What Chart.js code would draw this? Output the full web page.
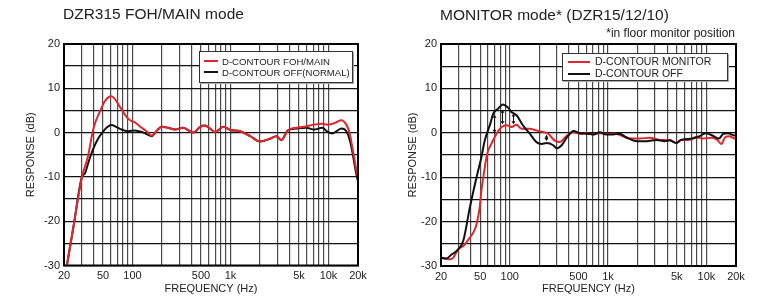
<!DOCTYPE html>
<html>
<head>
<meta charset="utf-8">
<script src="https://cdn.jsdelivr.net/npm/chart.js@4"></script>
<style>
  body { margin: 0; background: #fff; font-family: "Liberation Sans", Arial, sans-serif; color: #222; }
  #wrap { position: relative; width: 760px; height: 297px; overflow: hidden; }
  canvas { position: absolute; top: 0; }
  .ttl { position: absolute; font-size: 15.5px; line-height: 18px; white-space: nowrap; }
  .note { position: absolute; font-size: 12px; line-height: 13px; white-space: nowrap; }
  .lgd { position: absolute; background: #fff; border: 1px solid #333; box-shadow: 1px 1px 0 #aaa; font-size: 9.6px; }
  .lgd div { position: absolute; white-space: nowrap; line-height: 11px; }
  .lgd span { position: absolute; height: 2px; }
</style>
</head>
<body>
<div id="wrap">
  <canvas id="foh" width="380" height="297" style="left:0"></canvas>
  <canvas id="mon" width="380" height="297" style="left:380px"></canvas>

  <div class="ttl" style="left:63px; top:5px">DZR315 FOH/MAIN mode</div>
  <div class="ttl" style="left:440px; top:6px">MONITOR mode* (DZR15/12/10)</div>
  <div class="note" style="right:25px; top:27px">*in floor monitor position</div>

  <div class="lgd" style="left:199px; top:51px; width:152px; height:30px">
    <span style="left:4px; top:8px; width:14px; background:#e3262b"></span>
    <div style="left:22px; top:4px">D-CONTOUR FOH/MAIN</div>
    <span style="left:4px; top:19px; width:14px; background:#111"></span>
    <div style="left:22px; top:15px">D-CONTOUR OFF(NORMAL)</div>
  </div>
  <div class="lgd" style="left:562px; top:53px; width:164px; height:26px; font-size:10.5px">
    <span style="left:5px; top:7px; width:22px; background:#e3262b"></span>
    <div style="left:32px; top:2px">D-CONTOUR MONITOR</div>
    <span style="left:5px; top:19px; width:22px; background:#111"></span>
    <div style="left:32px; top:14px">D-CONTOUR OFF</div>
  </div>
</div>

<script>
// frequency grid + labels
const gridFreqs = [20, 30, 40, 50, 60, 70, 80, 90, 100, 200, 300, 400, 500, 600, 700, 800, 900,
  1000, 2000, 3000, 4000, 5000, 6000, 7000, 8000, 9000, 10000, 20000];
const xLabelValues = [20, 50, 100, 500, 1000, 5000, 10000, 20000];
const xLabelText = ['20', '50', '100', '500', '1k', '5k', '10k', '20k'];
const yLabelValues = [-30, -20, -10, 0, 10, 20];

// FOH/MAIN chart
const fohFreq = [21.4, 25, 30.5, 35, 40, 46.6, 52, 57, 61, 66, 72, 77.6, 84, 90.6, 98, 106, 122, 139, 157,
  178, 198, 230, 270, 329, 416, 491, 548, 620, 697, 844, 991, 1253, 1588, 2000, 2520, 2940, 3300, 3850,
  4680, 5890, 7140, 8650, 9740, 10950, 12200, 13550, 15200, 16380, 17400, 18380, 19400, 20000];
const fohMain = [-30, -21.2, -10, -5.5, 1.0, 4.8, 7.0, 8.0, 8.2, 7.6, 6.3, 5.2, 4.0, 3.1, 2.6, 2.3, 1.2, 0.3, -0.7,
  0.5, 1.3, 1.1, 0.7, 1.1, 0, 1.3, 1.6, 0.9, 0.1, 1.3, 0.6, 0.3, -0.8, -2.0, -1.4, -0.8, -1.7, 0.5,
  1.1, 1.4, 1.8, 2.0, 1.8, 2.0, 2.4, 2.8, 1.8, 0, -3, -6, -8.8, -10];
const fohOffFreq = [21.4, 25, 30.5, 32.7, 35.4, 40, 45, 50, 55, 61, 68, 77.6, 90.6, 106, 129, 157,
  178, 198, 230, 270, 329, 416, 491, 548, 620, 697, 844, 991, 1253, 1588, 2000, 2520, 2940, 3300, 3850,
  4680, 5890, 7140, 8650, 9740, 10950, 12200, 13550, 15200, 16380, 17400, 18380, 19400, 20000];
const fohOff = [-30, -21.2, -10, -9.2, -6.8, -3.5, -1.2, 0.2, 1.2, 1.7, 1.3, 0.7, 0.3, 0.5, 0, -0.8,
  0.5, 1.3, 1.1, 0.7, 1.1, 0, 1.3, 1.6, 0.9, 0.1, 1.3, 0.6, 0.3, -0.8, -2.0, -1.4, -0.8, -1.7, 0.5,
  0.9, 1.1, 0.7, 1.1, 0.2, -0.2, 0.4, 0.9, 0.3, -1.5, -4, -7, -9.8, -11];

// MONITOR chart
const monFreq = [20, 22, 24.7, 26.7, 30, 33.7, 39.3, 43, 46, 49.5, 51.5, 55.8, 57.2, 60.3, 65, 73.5, 82.8,
  93.3, 104, 117, 132, 160, 187, 218, 245, 285, 322, 380, 445, 519, 605, 706, 823, 960, 1190, 1360,
  1660, 2100, 2650, 3340, 4230, 4930, 5530, 6650, 7800, 9120, 11500, 12900, 14200, 15500, 17000, 19400, 20000];
const monOn = [-28.2, -28.3, -28.5, -28.1, -26.2, -25.5, -23.6, -22.3, -20.6, -16.8, -13, -7.8, -6.2, -4, -2.5, -0.2, 1.3,
  1.7, 1.3, 1.8, 0.9, 0.9, 0.5, 0.2, -0.2, -1.7, -2.1, -0.7, 0.1, -0.2, -0.1, -0.4, -0.1, -0.2, -0.2, -0.6,
  -1.3, -1.3, -1.1, -1.6, -1.7, -2.3, -1.6, -1.6, -1.0, -1.3, -1.1, -1.6, -2.5, -1.0, -0.8, -1.3, -1.3];
const monOffFreq = [20, 22.8, 25.6, 28.9, 33.7, 39.3, 46, 51.5, 55.8, 63.3, 68, 76, 85, 96, 104, 117, 136,
  160, 187, 211, 237, 277, 300, 337, 380, 445, 519, 605, 706, 823, 960, 1120, 1306, 1524, 1960, 2470,
  3110, 3770, 4230, 4930, 5530, 7240, 8450, 9850, 11500, 13400, 14900, 16500, 19400, 20000];
const monOff = [-28.1, -28.3, -27.4, -26.6, -24.3, -16.8, -10, -5.5, -1.7, 2.0, 4.3, 5.4, 6.4, 5.7, 4.7, 4.0, 1.7,
  -0.2, -2.1, -2.5, -2.3, -2.8, -3.5, -2.8, -1.1, 0.4, -0.1, -0.2, -0.4, 0.1, -0.4, -0.4, -0.2, -1.0, -1.9, -1.9,
  -1.6, -1.9, -1.7, -2.3, -1.6, -1.3, -0.8, -0.1, -0.6, -1.3, -0.2, -0.1, -0.6, -0.6];

// double arrows between the curves (monitor chart)
const arrowFreq = [69, 82.8, 107, 234];
const arrowTop = [4.3, 5.4, 4.6, -0.2];
const arrowBottom = [-0.2, 1.7, 1.7, -2.1];

const RED = '#e3262b';
const BLACK = '#111';
const FONT = '"Liberation Sans", Arial, sans-serif';

const pts = (xs, ys) => xs.map((x, i) => ({ x: x, y: ys[i] }));

const framePlugin = {
  id: 'frame',
  afterDraw(chart) {
    const a = chart.chartArea, ctx = chart.ctx;
    ctx.save();
    ctx.strokeStyle = '#000';
    ctx.lineWidth = 2;
    ctx.strokeRect(a.left, a.top, a.right - a.left, a.bottom - a.top);
    ctx.restore();
  }
};

const arrowPlugin = {
  id: 'arrows',
  afterDatasetsDraw(chart) {
    const xs = chart.scales.x, ys = chart.scales.y, ctx = chart.ctx;
    ctx.save();
    ctx.strokeStyle = '#111';
    ctx.fillStyle = '#111';
    ctx.lineWidth = 1;
    arrowFreq.forEach((f, i) => {
      const x = Math.round(xs.getPixelForValue(f)) + 0.5;
      const y1 = ys.getPixelForValue(arrowTop[i]) + 1;
      const y2 = ys.getPixelForValue(arrowBottom[i]) - 1;
      ctx.beginPath();
      ctx.moveTo(x, y1 + 2); ctx.lineTo(x, y2 - 2);
      ctx.stroke();
      ctx.beginPath();
      ctx.moveTo(x, y1); ctx.lineTo(x - 2, y1 + 3); ctx.lineTo(x + 2, y1 + 3); ctx.closePath();
      ctx.moveTo(x, y2); ctx.lineTo(x - 2, y2 - 3); ctx.lineTo(x + 2, y2 - 3); ctx.closePath();
      ctx.fill();
    });
    ctx.restore();
  }
};

function makeChart(id, sets, pad, yWidth, xHeight, extra) {
  return new Chart(document.getElementById(id), {
    type: 'line',
    data: {
      datasets: sets.map(s => ({
        data: s.data,
        borderColor: s.color,
        borderWidth: 2,
        pointRadius: 0,
        fill: false,
        cubicInterpolationMode: 'monotone',
        order: s.order
      }))
    },
    options: {
      responsive: false,
      animation: false,
      devicePixelRatio: 1,
      layout: { padding: pad },
      plugins: { legend: { display: false }, tooltip: { enabled: false } },
      scales: {
        x: {
          type: 'logarithmic',
          min: 20,
          max: 20000,
          afterBuildTicks: s => { s.ticks = gridFreqs.map(v => ({ value: v })); },
          afterFit: s => { s.height = xHeight; },
          ticks: {
            autoSkip: false,
            maxRotation: 0,
            padding: 4,
            color: '#222',
            font: { family: FONT, size: 11 },
            callback: v => {
              const i = xLabelValues.indexOf(v);
              return i >= 0 ? xLabelText[i] : '';
            }
          },
          grid: { color: '#4a4a4a', lineWidth: 1.2, drawTicks: false },
          border: { display: false },
          title: { display: true, text: 'FREQUENCY (Hz)', color: '#222', font: { family: FONT, size: 11 }, padding: 0 }
        },
        y: {
          min: -30,
          max: 20,
          afterFit: s => { s.width = yWidth; },
          ticks: {
            stepSize: 5,
            padding: 4,
            color: '#222',
            font: { family: FONT, size: 11 },
            callback: v => yLabelValues.includes(v) ? String(v) : ''
          },
          grid: { color: '#111', lineWidth: 1.3, drawTicks: false },
          border: { display: false },
          title: { display: true, text: 'RESPONSE (dB)', color: '#222', font: { family: FONT, size: 11 }, padding: 0 }
        }
      }
    },
    plugins: [framePlugin].concat(extra || [])
  });
}

makeChart('foh', [
  { data: pts(fohOffFreq, fohOff), color: BLACK, order: 2 },
  { data: pts(fohFreq, fohMain), color: RED, order: 1 }
], { left: 24, right: 22, top: 44, bottom: 1 }, 40, 30.5);

makeChart('mon', [
  { data: pts(monFreq, monOn), color: RED, order: 2 },
  { data: pts(monOffFreq, monOff), color: BLACK, order: 1 }
], { left: 26, right: 24, top: 44, bottom: 1 }, 35, 30, [arrowPlugin]);
</script>
</body>
</html>
